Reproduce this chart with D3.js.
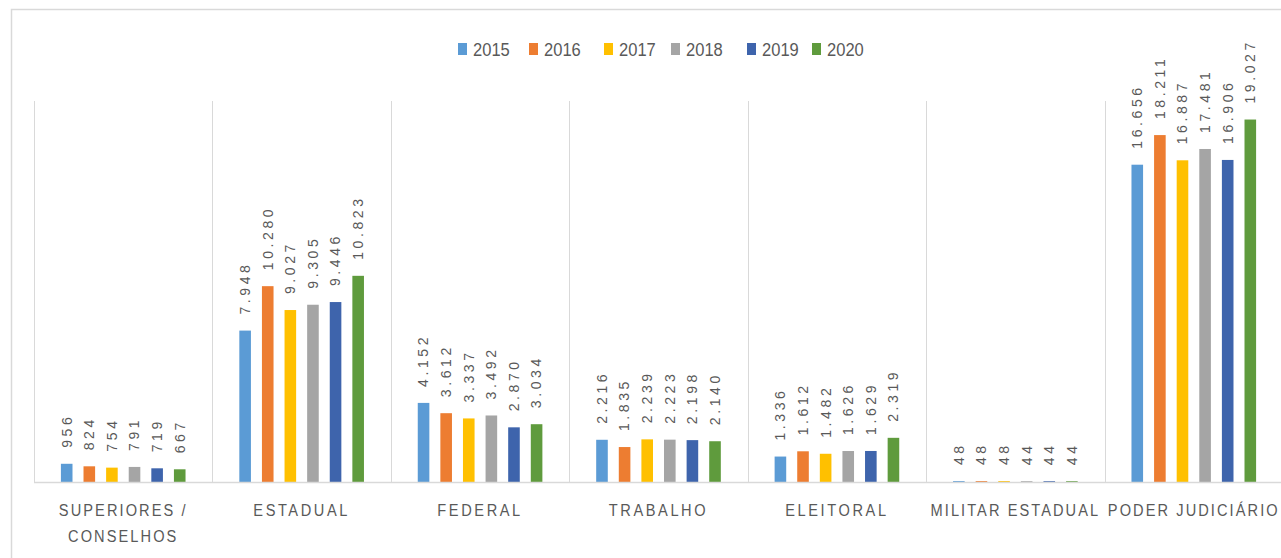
<!DOCTYPE html>
<html>
<head>
<meta charset="utf-8">
<script src="https://cdn.jsdelivr.net/npm/d3@7"></script>
<style>
  html, body { margin: 0; padding: 0; background: #fff; }
  svg { display: block; font-family: "Liberation Sans", Arial, sans-serif; }
</style>
</head>
<body>
<div id="chart"></div>
<script>
// Categories (line breaks as in the original axis labels)
const categories = ['SUPERIORES /\nCONSELHOS', 'ESTADUAL', 'FEDERAL', 'TRABALHO', 'ELEITORAL', 'MILITAR ESTADUAL', 'PODER JUDICIÁRIO'];
const years = ['2015', '2016', '2017', '2018', '2019', '2020'];
const colors = ['#5B9BD5', '#ED7D31', '#FFC000', '#A5A5A5', '#3E64AC', '#5F9B3D'];

// one array per year, in category order
const v2015 = [956, 7948, 4152, 2216, 1336, 48, 16656];
const v2016 = [824, 10280, 3612, 1835, 1612, 48, 18211];
const v2017 = [754, 9027, 3337, 2239, 1482, 48, 16887];
const v2018 = [791, 9305, 3492, 2223, 1626, 44, 17481];
const v2019 = [719, 9446, 2870, 2198, 1629, 44, 16906];
const v2020 = [667, 10823, 3034, 2140, 2319, 44, 19027];
const series = [v2015, v2016, v2017, v2018, v2019, v2020];

const W = 1281, H = 558;
const fmt = d3.format(',');
const ptbr = v => fmt(v).replace(/,/g, '.');

const svg = d3.select('#chart').append('svg')
  .attr('width', W).attr('height', H);

// outer chart frame
svg.append('rect')
  .attr('x', 11.5).attr('y', 9.5).attr('width', W + 20).attr('height', H + 20)
  .attr('fill', 'none').attr('stroke', '#d9d9d9').attr('stroke-width', 1.5);

const x0 = d3.scaleBand().domain(categories).range([34, 1283]).paddingInner(0).paddingOuter(0);
const x1 = d3.scaleBand().domain(years).range([0, x0.bandwidth()]).paddingInner(0.487).paddingOuter(1.19);
const y = d3.scaleLinear().domain([0, 20000]).range([482, 101]);

// vertical separators between categories
const seps = categories.map(c => x0(c)).concat([x0.range()[1]]);
svg.append('g').selectAll('line').data(seps).join('line')
  .attr('x1', d => Math.round(d) + 0.5).attr('x2', d => Math.round(d) + 0.5)
  .attr('y1', y(20000)).attr('y2', y(0))
  .attr('stroke', '#d9d9d9').attr('stroke-width', 1);

// bars
const groups = svg.append('g').selectAll('g').data(categories).join('g')
  .attr('transform', c => `translate(${x0(c)},0)`);

groups.each(function (c, ci) {
  const g = d3.select(this);
  const rows = years.map((yr, si) => ({ yr, si, v: series[si][ci] }));
  g.selectAll('rect').data(rows).join('rect')
    .attr('x', d => x1(d.yr)).attr('width', x1.bandwidth())
    .attr('y', d => y(d.v)).attr('height', d => y(0) - y(d.v))
    .attr('fill', d => colors[d.si]);
  g.selectAll('text').data(rows).join('text')
    .attr('transform', d => `translate(${x1(d.yr) + x1.bandwidth() / 2},${y(d.v) - 16}) rotate(-90)`)
    .attr('dy', '0.35em')
    .attr('text-anchor', 'start')
    .attr('fill', '#595959')
    .attr('font-size', 14)
    .attr('letter-spacing', 3.6)
    .text(d => ptbr(d.v));
});

// baseline
svg.append('line')
  .attr('x1', 34).attr('x2', W).attr('y1', y(0) + 0.5).attr('y2', y(0) + 0.5)
  .attr('stroke', '#d9d9d9').attr('stroke-width', 1.5);

// category labels (condensed a bit, like the source)
const cat = svg.append('g').selectAll('text').data(categories).join('text')
  .attr('transform', c => `translate(${x0(c) + x0.bandwidth() / 2},516) scale(0.86,1)`)
  .attr('text-anchor', 'middle')
  .attr('fill', '#595959')
  .attr('font-size', 17)
  .attr('letter-spacing', c => c.length > 14 ? 2.4 : 3);
cat.each(function (c) {
  const t = d3.select(this);
  c.split('\n').forEach((line, i) => {
    t.append('tspan').attr('x', 0).attr('dy', i ? 26 : 0).text(line);
  });
});

// legend
const legendX = [458, 529, 604, 671, 747, 812];
const lg = svg.append('g').selectAll('g').data(years).join('g')
  .attr('transform', (d, i) => `translate(${legendX[i]},43)`);
lg.append('rect').attr('width', 9).attr('height', 12).attr('fill', (d, i) => colors[i]);
lg.append('text').attr('transform', 'translate(15,12.5) scale(0.87,1)')
  .attr('fill', '#595959').attr('font-size', 19)
  .text(d => d);
</script>
</body>
</html>
